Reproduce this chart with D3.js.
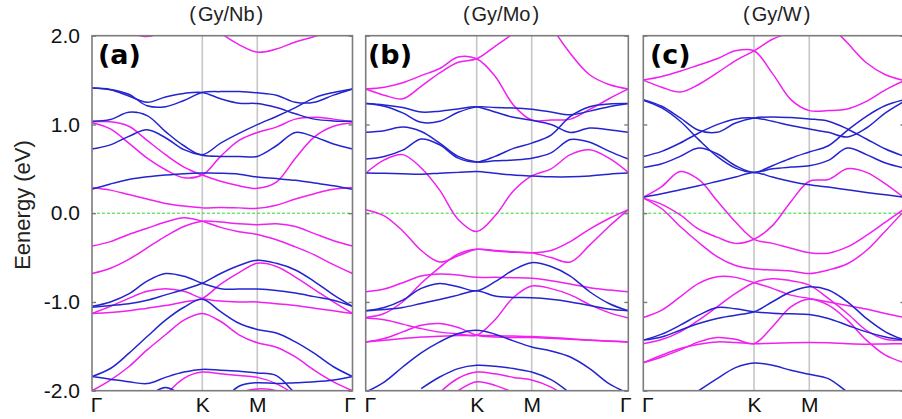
<!DOCTYPE html>
<html><head><meta charset="utf-8">
<script src="https://cdn.jsdelivr.net/npm/d3@7"></script>
<style>body{margin:0;background:#fff;} svg{display:block;}</style>
</head><body>
<svg id="chart" width="902" height="419"></svg>
<script>
// ---------- data ----------
const kLabels = ["Γ", "K", "M", "Γ"];
const kLabelIndex = [0, 6, 9, 14];          // k-point index of Γ, K, M, Γ (15 samples per band)
const energyTicks = [-2, -1, 0, 1, 2];
const panelTitles = ["Gy/Nb", "Gy/Mo", "Gy/W"];
const panelTags = ["(a)", "(b)", "(c)"];
const yLabel = "Eenergy (eV)";

// band energies (eV) at the 15 k samples
const nbBlue = [
  [1.41, 1.395, 1.34, 1.21, 1.20, 1.27, 1.36, 1.37, 1.37, 1.356, 1.33, 1.25, 1.25, 1.33, 1.40],
  [1.41, 1.39, 1.32, 1.25, 1.31, 1.35, 1.36, 1.29, 1.24, 1.235, 1.19, 1.12, 1.06, 1.04, 1.036],
  [1.036, 1.055, 1.137, 1.10, 0.92, 0.76, 0.66, 0.79, 0.90, 0.998, 1.09, 1.19, 1.30, 1.36, 1.40],
  [0.723, 0.77, 0.866, 0.94, 0.85, 0.716, 0.652, 0.64, 0.64, 0.64, 0.76, 0.91, 0.86, 0.78, 0.723],
  [0.27, 0.33, 0.38, 0.41, 0.43, 0.445, 0.452, 0.45, 0.44, 0.407, 0.39, 0.37, 0.34, 0.31, 0.27],
  [-1.05, -1.0, -0.91, -0.765, -0.68, -0.71, -0.79, -0.85, -0.855, -0.855, -0.87, -0.90, -0.94, -0.98, -1.05],
  [-1.06, -1.04, -1.02, -0.98, -0.92, -0.86, -0.79, -0.68, -0.59, -0.53, -0.565, -0.64, -0.77, -0.92, -1.05],
  [-1.84, -1.75, -1.58, -1.39, -1.205, -1.06, -0.97, -1.11, -1.24, -1.31, -1.35, -1.45, -1.58, -1.73, -1.84],
  [-1.84, -1.87, -1.90, -1.92, -1.85, -1.79, -1.76, -1.77, -1.78, -1.80, -1.83, -2.03, -2.2, null, null],
  [null, null, null, null, null, null, null, -2.15, -1.95, -1.91, -1.92, -1.91, -1.90, -1.88, -1.84],
  [null, null, null, -2.08, -1.965, -2.08, null, null, null, null, null, null, null, null, null]
];
const nbMagenta = [
  [null, null, null, null, null, 2.3, 2.2, 2.03, 1.90, 1.815, 1.85, 1.93, 1.99, 2.07, 2.2],
  [null, null, 2.04, 1.99, 2.06, null, null, null, null, null, null, null, null, null, null],
  [1.03, 1.03, 0.98, 0.82, 0.66, 0.52, 0.43, 0.36, 0.31, 0.28, 0.35, 0.62, 0.86, 0.98, 1.02],
  [1.02, 0.95, 0.79, 0.62, 0.49, 0.40, 0.43, 0.64, 0.82, 0.91, 0.97, 1.06, 1.08, 1.06, 1.03],
  [0.29, 0.26, 0.21, 0.16, 0.11, 0.08, 0.06, 0.065, 0.06, 0.055, 0.09, 0.16, 0.22, 0.27, 0.29],
  [-0.37, -0.32, -0.24, -0.17, -0.10, -0.05, -0.09, -0.16, -0.21, -0.24, -0.30, -0.38, -0.47, -0.58, -0.68],
  [-0.68, -0.62, -0.52, -0.39, -0.26, -0.15, -0.09, -0.10, -0.12, -0.13, -0.12, -0.15, -0.23, -0.31, -0.37],
  [-1.13, -1.05, -0.96, -0.88, -0.85, -0.88, -0.96, -0.99, -1.0, -1.0, -1.02, -1.04, -1.07, -1.10, -1.13],
  [-1.13, -1.12, -1.10, -1.07, -1.04, -1.0, -0.96, -0.80, -0.67, -0.565, -0.60, -0.72, -0.86, -1.0, -1.13],
  [-2.0, -1.88, -1.73, -1.54, -1.37, -1.205, -1.13, -1.22, -1.37, -1.46, -1.51, -1.62, -1.77, -1.9, -2.0],
  [null, null, null, null, -2.05, -1.86, -1.79, -1.81, -1.83, -1.85, -1.92, -2.05, null, null, null],
  [null, null, null, null, null, null, null, -2.1, -2.02, -1.98, -2.0, -2.1, null, null, null]
];
const moBlue = [
  [1.235, 1.205, 1.13, 1.024, 1.036, 1.137, 1.198, 1.19, 1.185, 1.17, 1.14, 1.11, 1.15, 1.20, 1.235],
  [1.235, 1.22, 1.19, 1.14, 1.15, 1.175, 1.198, 1.14, 1.08, 1.047, 1.0, 0.91, 0.96, 0.94, 0.911],
  [0.911, 0.93, 0.97, 0.92, 0.79, 0.64, 0.576, 0.59, 0.60, 0.62, 0.68, 0.83, 0.80, 0.70, 0.61],
  [0.61, 0.64, 0.71, 0.836, 0.77, 0.62, 0.576, 0.64, 0.73, 0.79, 0.88, 1.09, 1.20, 1.23, 1.235],
  [0.452, 0.45, 0.445, 0.44, 0.45, 0.46, 0.47, 0.45, 0.43, 0.42, 0.41, 0.41, 0.42, 0.44, 0.452],
  [-1.10, -1.062, -0.98, -0.847, -0.791, -0.829, -0.874, -0.772, -0.64, -0.557, -0.60, -0.708, -0.885, -1.017, -1.10],
  [-1.10, -1.085, -1.062, -1.017, -0.972, -0.923, -0.874, -0.934, -0.949, -0.953, -0.97, -1.0, -1.04, -1.08, -1.10],
  [-2.015, -1.902, -1.733, -1.574, -1.45, -1.356, -1.318, -1.363, -1.439, -1.507, -1.552, -1.62, -1.751, -1.921, -2.03],
  [null, null, null, -1.977, -1.846, -1.751, -1.714, -1.725, -1.751, -1.789, -1.876, -2.03, null, null, null]
];
const moMagenta = [
  [1.40, 1.33, 1.29, 1.43, 1.58, 1.70, 1.74, 1.88, 2.03, 2.25, null, null, null, null, null],
  [1.40, 1.42, 1.47, 1.55, 1.63, 1.76, 1.74, 1.544, 1.22, 1.05, 1.05, 1.06, 1.17, 1.29, 1.40],
  [null, null, null, null, null, null, null, null, null, 2.6, 2.12, 1.80, 1.56, 1.45, 1.40],
  [0.45, 0.60, 0.66, 0.51, 0.26, -0.07, -0.207, -0.03, 0.25, 0.42, 0.50, 0.66, 0.715, 0.62, 0.46],
  [0.04, -0.03, -0.2, -0.42, -0.55, -0.48, -0.407, -0.42, -0.435, -0.445, -0.42, -0.32, -0.18, -0.06, 0.04],
  [-0.885, -0.855, -0.783, -0.708, -0.686, -0.697, -0.723, -0.723, -0.727, -0.734, -0.761, -0.798, -0.84, -0.866, -0.885],
  [-1.175, -1.13, -0.998, -0.79, -0.61, -0.46, -0.407, -0.425, -0.44, -0.445, -0.50, -0.55, -0.36, -0.15, 0.04],
  [-1.18, -1.20, -1.25, -1.30, -1.34, -1.36, -1.375, -1.2, -0.95, -0.82, -0.85, -0.92, -1.03, -1.12, -1.18],
  [-1.45, -1.412, -1.337, -1.262, -1.243, -1.288, -1.375, -1.394, -1.401, -1.401, -1.409, -1.42, -1.431, -1.442, -1.45],
  [-1.45, -1.431, -1.412, -1.394, -1.386, -1.379, -1.375, -1.38, -1.385, -1.39, -1.40, -1.415, -1.43, -1.44, -1.45],
  [null, null, null, null, -2.02, -1.86, -1.79, -1.81, -1.85, -1.88, -1.96, -2.1, null, null, null],
  [null, null, null, null, null, -2.0, -1.9, -1.94, -2.02, -2.1, null, null, null, null, null]
];
const wBlue = [
  [1.28, 1.205, 1.073, 0.934, 0.911, 1.017, 1.073, 1.085, 1.077, 1.062, 1.036, 0.949, 0.836, 0.723, 0.64],
  [1.273, 1.186, 1.036, 0.829, 0.64, 0.508, 0.46, 0.50, 0.52, 0.535, 0.595, 0.734, 0.66, 0.565, 0.508],
  [0.64, 0.697, 0.791, 0.904, 0.998, 1.062, 1.073, 1.036, 0.987, 0.949, 0.911, 0.859, 0.96, 1.13, 1.262],
  [0.516, 0.557, 0.64, 0.734, 0.67, 0.535, 0.46, 0.535, 0.62, 0.69, 0.76, 0.934, 1.092, 1.213, 1.28],
  [0.18, 0.218, 0.264, 0.309, 0.358, 0.407, 0.46, 0.407, 0.358, 0.32, 0.294, 0.264, 0.234, 0.207, 0.18],
  [-1.43, -1.363, -1.262, -1.149, -1.062, -1.077, -1.111, -1.126, -1.134, -1.141, -1.186, -1.262, -1.337, -1.394, -1.43],
  [-1.43, -1.394, -1.318, -1.243, -1.186, -1.149, -1.111, -0.998, -0.885, -0.829, -0.866, -0.998, -1.186, -1.337, -1.43],
  [null, null, null, -2.0, -1.864, -1.74, -1.687, -1.714, -1.77, -1.815, -1.864, -2.015, -2.15, null, null]
];
const wMagenta = [
  [1.50, 1.42, 1.365, 1.45, 1.58, 1.72, 1.83, 1.96, 2.04, 2.15, null, null, null, null, null],
  [1.50, 1.54, 1.60, 1.67, 1.74, 1.83, 1.83, 1.575, 1.28, 1.156, 1.156, 1.175, 1.26, 1.39, 1.495],
  [null, null, null, null, null, null, null, null, null, 2.5, 2.15, 1.92, 1.695, 1.56, 1.495],
  [0.17, 0.10, -0.02, -0.18, -0.27, -0.34, -0.294, -0.14, 0.13, 0.36, 0.38, 0.50, 0.46, 0.33, 0.17],
  [0.18, 0.30, 0.47, 0.38, 0.14, -0.10, -0.294, -0.34, -0.395, -0.445, -0.45, -0.38, -0.25, -0.10, 0.05],
  [0.17, 0.05, -0.15, -0.33, -0.49, -0.59, -0.63, -0.64, -0.65, -0.68, -0.64, -0.57, -0.42, -0.2, 0.03],
  [-1.175, -1.092, -0.942, -0.79, -0.715, -0.723, -0.783, -0.847, -0.923, -0.96, -1.0, -1.04, -1.08, -1.13, -1.175],
  [-1.47, -1.424, -1.337, -1.205, -1.055, -0.904, -0.783, -0.738, -0.76, -0.81, -0.96, -1.13, -1.32, -1.42, -1.43],
  [-1.685, -1.62, -1.54, -1.45, -1.40, -1.42, -1.47, -1.28, -1.055, -0.97, -1.036, -1.205, -1.43, -1.60, -1.685],
  [-1.685, -1.60, -1.525, -1.476, -1.45, -1.458, -1.47, -1.465, -1.46, -1.458, -1.46, -1.47, -1.476, -1.473, -1.47]
];

// ---------- drawing ----------
const FONT = "'Liberation Sans', Arial, sans-serif";
const BLUE = "#2424cf", MAG = "#f020f0";
const svg = d3.select("#chart");
const y = d3.scaleLinear().domain([-2, 2]).range([390.7, 35.7]);

const layout = [
  { xs: [92, 202.3, 257.3, 352.5], tagX: 98 },
  { xs: [365.7, 476.7, 531.7, 628.3], tagX: 368 },
  { xs: [643.3, 754, 809.3, 904.5], tagX: 650 }
];
const bandsBlue = [nbBlue, moBlue, wBlue];
const bandsMag = [nbMagenta, moMagenta, wMagenta];
const defs = svg.append("defs");

layout.forEach((L, p) => {
  const x = d3.scaleLinear().domain(kLabelIndex).range(L.xs);
  const x0 = L.xs[0], x1 = L.xs[3];
  const g = svg.append("g");

  defs.append("clipPath").attr("id", "clip" + p)
    .append("rect").attr("x", x0).attr("y", y(2)).attr("width", x1 - x0).attr("height", y(-2) - y(2));

  // high-symmetry vertical lines
  g.selectAll("line.hs").data([kLabelIndex[1], kLabelIndex[2]]).join("line").attr("class", "hs")
    .attr("x1", d => x(d)).attr("x2", d => x(d)).attr("y1", y(2)).attr("y2", y(-2))
    .attr("stroke", "#c6c6c6").attr("stroke-width", 1.6);

  // Fermi level
  g.append("line").attr("x1", x0).attr("x2", x1).attr("y1", y(0)).attr("y2", y(0))
    .attr("stroke", "#2ed82e").attr("stroke-width", 1).attr("stroke-dasharray", "3,2");

  const line = d3.line().defined(d => d != null)
    .x((d, i) => x(i)).y(d => y(d)).curve(d3.curveCatmullRom.alpha(0.5));
  const bg = g.append("g").attr("clip-path", `url(#clip${p})`);
  bg.selectAll("path.mag").data(bandsMag[p]).join("path").attr("class", "mag")
    .attr("d", line).attr("fill", "none").attr("stroke", MAG).attr("stroke-width", 1.5);
  bg.selectAll("path.blue").data(bandsBlue[p]).join("path").attr("class", "blue")
    .attr("d", line).attr("fill", "none").attr("stroke", BLUE).attr("stroke-width", 1.5);

  // frame
  g.append("rect").attr("x", x0).attr("y", y(2)).attr("width", x1 - x0).attr("height", y(-2) - y(2))
    .attr("fill", "none").attr("stroke", "#7c7c7c").attr("stroke-width", 1.6);

  // y axes (inward ticks)
  const left = g.append("g").attr("transform", `translate(${x0},0)`)
    .call(d3.axisLeft(y).tickValues(energyTicks).tickSize(-4).tickPadding(12)
      .tickFormat(p === 0 ? (d => d.toFixed(1)) : (() => "")));
  const right = g.append("g").attr("transform", `translate(${x1},0)`)
    .call(d3.axisRight(y).tickValues(energyTicks).tickSize(-4).tickFormat(() => ""));
  [left, right].forEach(a => {
    a.select(".domain").remove();
    a.selectAll(".tick line").attr("stroke", "#7c7c7c").attr("stroke-width", 1.4);
    a.attr("font-family", FONT).attr("font-size", 21);
    a.selectAll(".tick text").attr("fill", "#111");
  });

  // x axis labels
  const xv = p === 2 ? kLabelIndex.slice(0, 3) : kLabelIndex;
  const xa = g.append("g").attr("transform", `translate(0,${y(-2)})`)
    .call(d3.axisBottom(x).tickValues(xv).tickSize(0).tickPadding(6)
      .tickFormat(d => kLabels[kLabelIndex.indexOf(d)]));
  xa.select(".domain").remove();
  xa.attr("font-family", FONT).attr("font-size", 21);
  xa.selectAll(".tick text").attr("fill", "#111")
    .attr("dx", (d, i) => i === 0 ? 4 : (d === 14 ? -3 : 0));

  // title
  const t = svg.append("text").attr("x", (x0 + Math.min(x1, 902)) / 2 + 4).attr("y", 21)
    .attr("text-anchor", "middle").attr("font-family", FONT).attr("font-size", 20).attr("fill", "#222");
  t.append("tspan").text("(");
  t.append("tspan").attr("dx", 2).text(panelTitles[p]);
  t.append("tspan").attr("dx", 2).text(")");

  // panel tag
  svg.append("text").attr("x", L.tagX).attr("y", 64)
    .attr("font-family", "'DejaVu Sans', sans-serif").attr("font-weight", "bold").attr("font-size", 27)
    .attr("fill", "#000").text(panelTags[p]);
});

svg.append("text").attr("transform", "translate(30,205) rotate(-90)")
  .attr("text-anchor", "middle").attr("font-family", FONT).attr("font-size", 22).attr("fill", "#222")
  .text(yLabel);
</script>
</body></html>
